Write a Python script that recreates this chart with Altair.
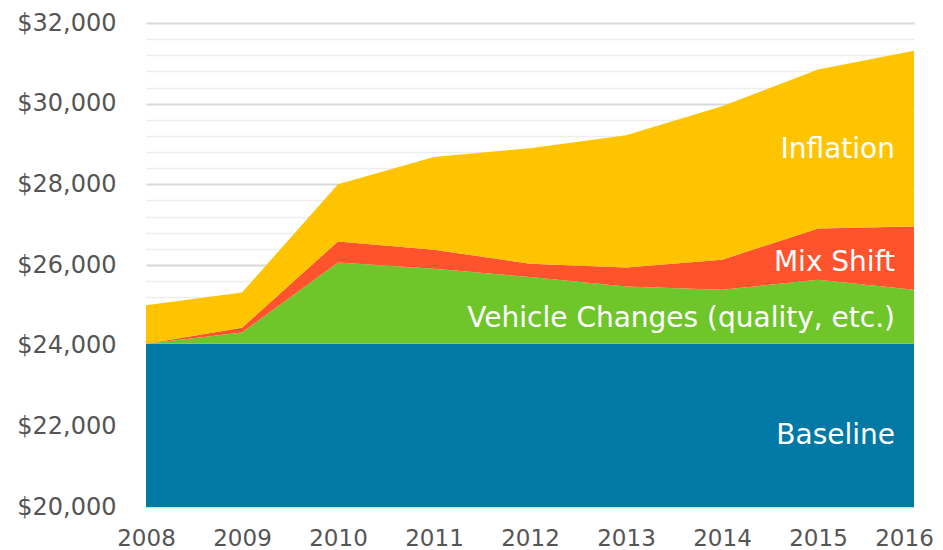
import altair as alt
import pandas as pd

years = [2008, 2009, 2010, 2011, 2012, 2013, 2014, 2015, 2016]
baseline = [24050, 24050, 24050, 24050, 24050, 24050, 24050, 24050, 24050]
vehicle = [0, 276, 2014, 1857, 1651, 1418, 1336, 1584, 1336]
mix_shift = [0, 117, 521, 472, 330, 472, 745, 1273, 1571]
inflation = [950, 876, 1415, 2301, 2862, 3276, 3804, 3939, 4353]

series_names = ["Baseline", "Vehicle Changes (quality, etc.)", "Mix Shift", "Inflation"]
series_colors = ["#0079A6", "#6FC62B", "#FF532D", "#FFC400"]
y_ticks = list(range(20000, 32001, 400))
label_dy = [11, 2, 5, 11]   # label nudges, in pixels (downwards)

WIDTH, HEIGHT = 768, 484
ymin, ymax = 20000, 32000

series = [baseline, vehicle, mix_shift, inflation]
rows = []
for i, yr in enumerate(years):
    lo = 0
    for k, name in enumerate(series_names):
        hi = lo + series[k][i]
        rows.append({"year": yr, "series": name, "order": k, "lo": lo, "hi": hi})
        lo = hi
df = pd.DataFrame(rows)

units_per_px = (ymax - ymin) / HEIGHT
last = df[df.year == years[-1]]
lab_rows = []
for k, name in enumerate(series_names):
    r = last[last.series == name].iloc[0]
    lo = max(r.lo, ymin)
    mid = (lo + r.hi) / 2 - label_dy[k] * units_per_px
    lab_rows.append({"series": name, "year": years[-1], "mid": mid})
labels = pd.DataFrame(lab_rows)

FONT = "DejaVu Sans"

x_scale = alt.Scale(domain=[years[0], years[-1]], nice=False, zero=False)
y_scale = alt.Scale(domain=[ymin, ymax], nice=False, zero=False)

areas = alt.Chart(df).mark_area(clip=True, strokeWidth=0).encode(
    x=alt.X("year:Q", scale=x_scale,
            axis=alt.Axis(values=years, tickCount=100, format="d", grid=False, domain=False,
                          ticks=False, tickSize=0, labelPadding=20, labelFontSize=23,
                          labelColor="#555555", labelFont=FONT, title=None, labelFlush=False,
                          labelOverlap=False,
                          labelOffset={"condition": {"test": f"datum.value === {years[-1]}", "value": -10},
                                       "value": 0})),
    y=alt.Y("lo:Q", scale=y_scale,
            axis=alt.Axis(values=y_ticks, tickCount=100, domain=False, ticks=False, tickSize=0,
                          title=None, labelOverlap=False,
                          labelExpr="datum.value % 2000 === 0 ? format(datum.value, '$,.0f') : ''",
                          labelPadding=30, labelFontSize=24, labelColor="#555555", labelFont=FONT,
                          gridColor={"condition": {"test": "datum.value % 2000 === 0", "value": "#d9d9d9"},
                                     "value": "#ededed"},
                          gridWidth={"condition": {"test": "datum.value % 2000 === 0", "value": 2},
                                     "value": 1.5})),
    y2="hi:Q",
    color=alt.Color("series:N", scale=alt.Scale(domain=series_names, range=series_colors), legend=None),
    order="order:Q",
)

text = alt.Chart(labels).mark_text(align="right", baseline="middle", dx=-19, fontSize=28,
                                   color="white", font=FONT).encode(
    x=alt.X("year:Q", scale=x_scale),
    y=alt.Y("mid:Q", scale=y_scale),
    text="series:N",
)

chart = alt.layer(areas, text).properties(
    width=WIDTH, height=HEIGHT,
    autosize=alt.AutoSizeParams(type="none"),
    padding={"left": 138, "top": 15, "right": 21, "bottom": 42},
).configure_view(stroke=None)

chart.save("out.html", embed_options={"renderer": "svg", "actions": False})
